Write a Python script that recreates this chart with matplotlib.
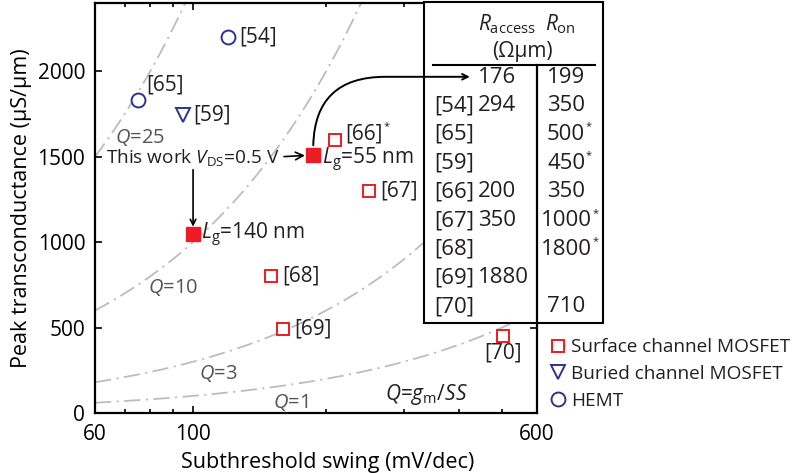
import numpy as np
import matplotlib
matplotlib.use("Agg")
import matplotlib.pyplot as plt
from matplotlib.lines import Line2D

# ── Data ────────────────────────────────────────────────────────────────
surface_ss = [209, 250, 150, 160, 503]
surface_gm = [1600, 1300, 800, 490, 450]
surface_lbl = ["[66]*", "[67]", "[68]", "[69]", "[70]"]

buried_ss = [95]
buried_gm = [1745]
buried_lbl = ["[59]"]

hemt_ss = [120, 75]
hemt_gm = [2200, 1830]
hemt_lbl = ["[54]", "[65]"]

this_ss = [187, 100]          # L_g = 55 nm, L_g = 140 nm
this_gm = [1510, 1050]
this_lbl = ["$\\mathit{L}_{\\mathrm{g}}$=55 nm", "$\\mathit{L}_{\\mathrm{g}}$=140 nm"]

q_values = [1, 3, 10, 25]
q_label_ss = [152, 103, 79, 66.5]
q_label_gm = [64, 234, 737, 1614]

x_ticks = [60, 100, 600]
x_minor = [70, 80, 90, 200, 300, 400, 500]
y_ticks = [0, 500, 1000, 1500, 2000]

table_ref = ["", "[54]", "[65]", "[59]", "[66]", "[67]", "[68]", "[69]", "[70]"]
table_racc = ["176", "294", "", "", "200", "350", "", "1880", ""]
table_ron = ["199", "350", "500*", "450*", "350", "1000*", "1800*", "", "710"]

# ── Style ───────────────────────────────────────────────────────────────
RED = "#ED1C24"
BLUE = "#2E3192"
GREY = "#BDBDBD"
TXT = "#231F20"
FONT = "Open Sans"

plt.rcParams.update({
    "font.family": FONT,
    "mathtext.fontset": "custom",
    "mathtext.rm": FONT,
    "mathtext.it": FONT + ":italic",
    "mathtext.bf": FONT + ":bold",
    "text.color": TXT,
    "axes.linewidth": 1.6,
    "xtick.direction": "in",
    "ytick.direction": "in",
})
FS = 15
FS_TAB = 16


def star_after(ax, artist):
    """Small superscript asterisk right after a text artist."""
    ax.annotate("*", (1.0, 0.85), xycoords=artist, xytext=(0.5, 0),
                textcoords="offset points", ha="left", va="center",
                fontsize=8, zorder=6)


fig = plt.figure(figsize=(7.93, 4.73), dpi=100)
ax = fig.add_axes([95 / 793, 60 / 473, 442 / 793, 410 / 473])
ax.set_xscale("log")
ax.set_xlim(60, 600)
ax.set_ylim(0, 2400)

# Q = gm / SS guide lines
ss_line = np.geomspace(60, 600, 200)
for q in q_values:
    ax.plot(ss_line, q * ss_line, color=GREY, lw=1.3,
            dashes=(9, 3, 1.2, 3), zorder=1)

for x, y, q in zip(q_label_ss, q_label_gm, q_values):
    ax.text(x, y, "$\\mathit{Q}$=%d" % q, fontsize=14.5,
            color="#555555", ha="left", va="center")
ax.text(272, 106, "$\\mathit{Q}$=$\\mathit{g}_{\\mathrm{m}}$/$\\mathit{SS}$",
        fontsize=15, ha="left", va="center")

# markers
ax.plot(surface_ss, surface_gm, ls="none", marker="s", ms=8, mfc="white",
        mec=RED, mew=1.4, zorder=3)
ax.plot(buried_ss, buried_gm, ls="none", marker="v", ms=10, mfc="white",
        mec=BLUE, mew=1.4, zorder=3)
ax.plot(hemt_ss, hemt_gm, ls="none", marker="o", ms=10, mfc="white",
        mec=BLUE, mew=1.4, zorder=3)
ax.plot(this_ss, this_gm, ls="none", marker="s", ms=9.5, mfc=RED,
        mec=RED, zorder=3)

# point labels (offsets in points)
surf_off = [(8, 4), (8, 0), (8, 0), (8, 0), (0, -12)]
for x, y, s, (dx, dy) in zip(surface_ss, surface_gm, surface_lbl, surf_off):
    t = ax.annotate(s.rstrip("*"), (x, y), xytext=(dx, dy),
                    textcoords="offset points",
                    ha="center" if dx == 0 else "left", va="center", fontsize=FS)
    if s.endswith("*"):
        star_after(ax, t)
for x, y, s in zip(buried_ss, buried_gm, buried_lbl):
    ax.annotate(s, (x, y), xytext=(7, 0), textcoords="offset points",
                ha="left", va="center", fontsize=FS)
hemt_off = [(8, 0), (6, 11)]
for x, y, s, (dx, dy) in zip(hemt_ss, hemt_gm, hemt_lbl, hemt_off):
    ax.annotate(s, (x, y), xytext=(dx, dy), textcoords="offset points",
                ha="left", va="center", fontsize=FS)
for x, y, s, dy in zip(this_ss, this_gm, this_lbl, [-6.5, -4.5]):
    ax.annotate(s, (x, y), xytext=(6, dy), textcoords="offset points",
                ha="left", va="baseline", fontsize=FS)

# "This work" annotations
ax.annotate("This work $\\mathit{V}_{\\mathrm{DS}}$=0.5 V", (this_ss[0], this_gm[0]),
            xytext=(-24, -6), textcoords="offset points", ha="right",
            va="baseline", fontsize=13.7,
            arrowprops=dict(arrowstyle="->", color="black", lw=1.2,
                            shrinkA=1, shrinkB=6,
                            relpos=(1.0, 0.55)))
ax.annotate("", (this_ss[1], this_gm[1]), xytext=(0, 46),
            textcoords="offset points",
            arrowprops=dict(arrowstyle="->", color="black", lw=1.2,
                            shrinkA=0, shrinkB=5))
ax.annotate("", (0.848, 0.82), xycoords="axes fraction",
            xytext=(this_ss[0], this_gm[0]), textcoords="data",
            arrowprops=dict(arrowstyle="->", color="black", lw=1.4,
                            connectionstyle="angle,angleA=90,angleB=0,rad=72",
                            shrinkA=7, shrinkB=0), zorder=6)

# ── Table ──────────────────────────────────────────────────────────────
tx0, tx1 = 0.744, 1.149
ty0, ty1 = 0.2195, 1.002
ax.add_patch(plt.Rectangle((tx0, ty0), tx1 - tx0, ty1 - ty0,
                           transform=ax.transAxes, facecolor="white",
                           edgecolor="black", lw=1.5, clip_on=False, zorder=4))
ax.plot([0.765, 1.131], [0.8488, 0.8488], transform=ax.transAxes,
        color="black", lw=1.5, clip_on=False, zorder=5)
ax.plot([1.0, 1.0], [ty0, 0.8488], transform=ax.transAxes,
        color="black", lw=1.6, clip_on=False, zorder=5)
ax.text(0.932, 0.948, "$\\mathit{R}_{\\mathrm{access}}$", transform=ax.transAxes,
        ha="center", va="center", fontsize=FS, zorder=6)
ax.text(1.052, 0.948, "$\\mathit{R}_{\\mathrm{on}}$", transform=ax.transAxes,
        ha="center", va="center", fontsize=FS, zorder=6)
ax.text(0.968, 0.881, "(Ω\u00b5m)", transform=ax.transAxes,
        ha="center", va="center", fontsize=FS, zorder=6)
for i, (ref, ra, ro) in enumerate(zip(table_ref, table_racc, table_ron)):
    yy = (413 - (77 + 28.7 * i)) / 410
    ax.text(0.767, yy, ref, transform=ax.transAxes, ha="left",
            va="center", fontsize=FS_TAB, zorder=6)
    ax.text(0.866, yy, ra, transform=ax.transAxes, ha="left",
            va="center", fontsize=FS_TAB, zorder=6)
    t = ax.text(1.066, yy, ro.rstrip("*"), transform=ax.transAxes,
                ha="center", va="center", fontsize=FS_TAB, zorder=6)
    if ro.endswith("*"):
        star_after(ax, t)

# ── Axes ───────────────────────────────────────────────────────────────
ax.set_xticks(x_ticks)
ax.set_xticklabels([str(v) for v in x_ticks])
ax.set_xticks(x_minor, minor=True)
ax.set_xticklabels([], minor=True)
ax.set_yticks(y_ticks)
ax.tick_params(which="both", top=True, right=True, labelsize=FS, width=1.2)
ax.tick_params(axis="x", pad=8)
ax.tick_params(axis="y", pad=7)
ax.tick_params(which="major", length=5)
ax.tick_params(which="minor", length=3)
ax.set_xlabel("Subthreshold swing (mV/dec)", fontsize=15.5)
ax.xaxis.set_label_coords(0.527, -0.095)
ax.set_ylabel("Peak transconductance (\u00b5S/\u00b5m)", fontsize=15.5, labelpad=4)

# legend
handles = [
    Line2D([], [], ls="none", marker="s", ms=8, mfc="white", mec=RED, mew=1.4),
    Line2D([], [], ls="none", marker="v", ms=10, mfc="white", mec=BLUE, mew=1.4),
    Line2D([], [], ls="none", marker="o", ms=10, mfc="white", mec=BLUE, mew=1.4),
]
ax.legend(handles, ["Surface channel MOSFET", "Buried channel MOSFET", "HEMT"],
          loc="upper left", bbox_to_anchor=(1.03, 0.182), frameon=False,
          fontsize=13.7, handlelength=0.8, handletextpad=0.3,
          labelspacing=0.45, borderpad=0, borderaxespad=0)

fig.savefig("out.png", dpi=100)
